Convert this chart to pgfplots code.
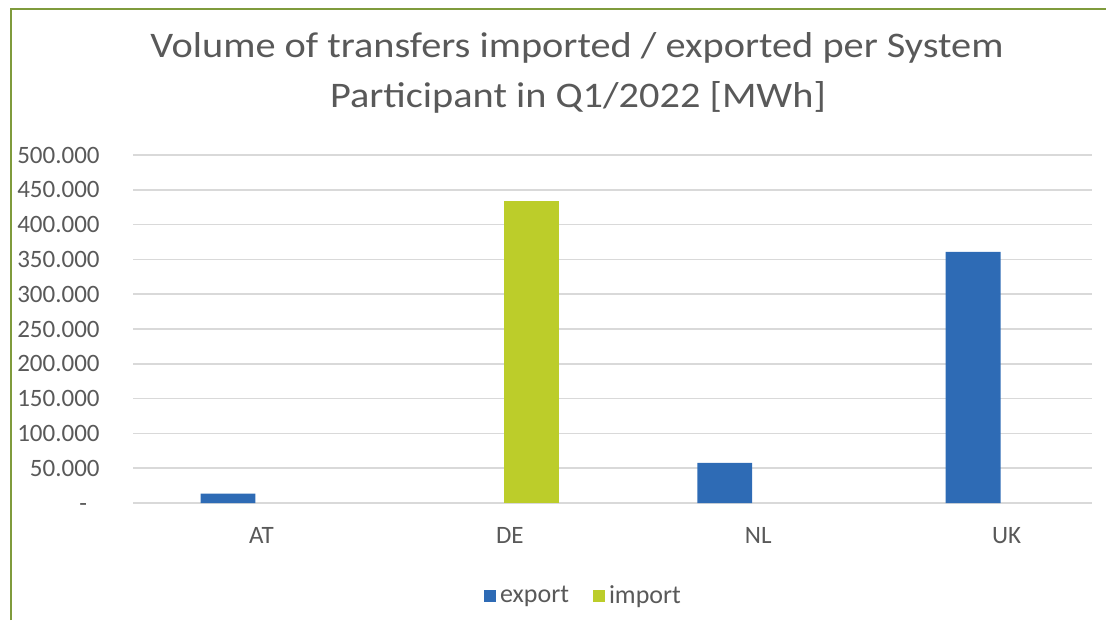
\documentclass[border=0pt]{standalone}
\usepackage{pgfplots}
\pgfplotsset{compat=1.18}
\usepackage{fontspec}
\setmainfont{Carlito}
\definecolor{exportblue}{HTML}{2E6BB5}
\definecolor{importgreen}{HTML}{BCCD2A}
\definecolor{txtgray}{HTML}{595959}
\definecolor{gridgray}{HTML}{D9D9D9}
\definecolor{frameolive}{HTML}{7F9B3C}
\begin{document}
\begin{tikzpicture}
\useasboundingbox (0,0) rectangle (553pt,-310pt);
\draw[frameolive, line width=1pt] (5.5pt,-310pt) -- (5.5pt,-4.7pt) -- (553pt,-4.7pt);
\node[anchor=base, text=txtgray, inner sep=0pt, xscale=1.12, font=\fontsize{18}{21}\selectfont] at (288.5pt,-29pt) {Volume of transfers imported / exported per System};
\node[anchor=base, text=txtgray, inner sep=0pt, xscale=1.12, font=\fontsize{18}{21}\selectfont] at (289pt,-54pt) {Participant in Q1/2022 [MWh]};
\begin{axis}[
  at={(66.5pt,-251.5pt)}, anchor=south west,
  scale only axis, width=479.5pt, height=174pt,
  xmin=-0.493, xmax=3.368, ymin=0, ymax=500000,
  ybar, bar width=0.221,
  xtick={0,1,2,3}, xticklabels={AT,DE,NL,UK},
  ytick={0,50000,100000,150000,200000,250000,300000,350000,400000,450000,500000},
  yticklabels={-\phantom{0},50.000,100.000,150.000,200.000,250.000,300.000,350.000,400.000,450.000,500.000},
  scaled y ticks=false,
  ymajorgrids, grid style={gridgray, line width=0.75pt},
  axis line style={draw=none},
  major tick length=0pt,
  tick label style={text=txtgray, font=\fontsize{12.5}{15}\selectfont},
  yticklabel style={anchor=east, inner sep=0pt, xshift=-16.5pt},
  xticklabel style={anchor=north, inner sep=0pt, yshift=-12pt, xshift=3pt},
  legend columns=2,
  legend style={draw=none, fill=none, at={(axis description cs:0.4708,-0.2672)}, anchor=center,
    font=\fontsize{13}{15}\selectfont, text=txtgray,
    /tikz/every even column/.append style={column sep=10pt}},
  legend image code/.code={\fill[#1] (0pt,-3pt) rectangle (6pt,3pt);},
]
\addplot[fill=exportblue, draw=none, bar shift=-0.1105] coordinates {(0,13500) (2,57500) (3,361000)};
\addplot[fill=importgreen, draw=none, bar shift=0.1105] coordinates {(1,434000)};
\legend{export, import}
\end{axis}
\end{tikzpicture}
\end{document}
